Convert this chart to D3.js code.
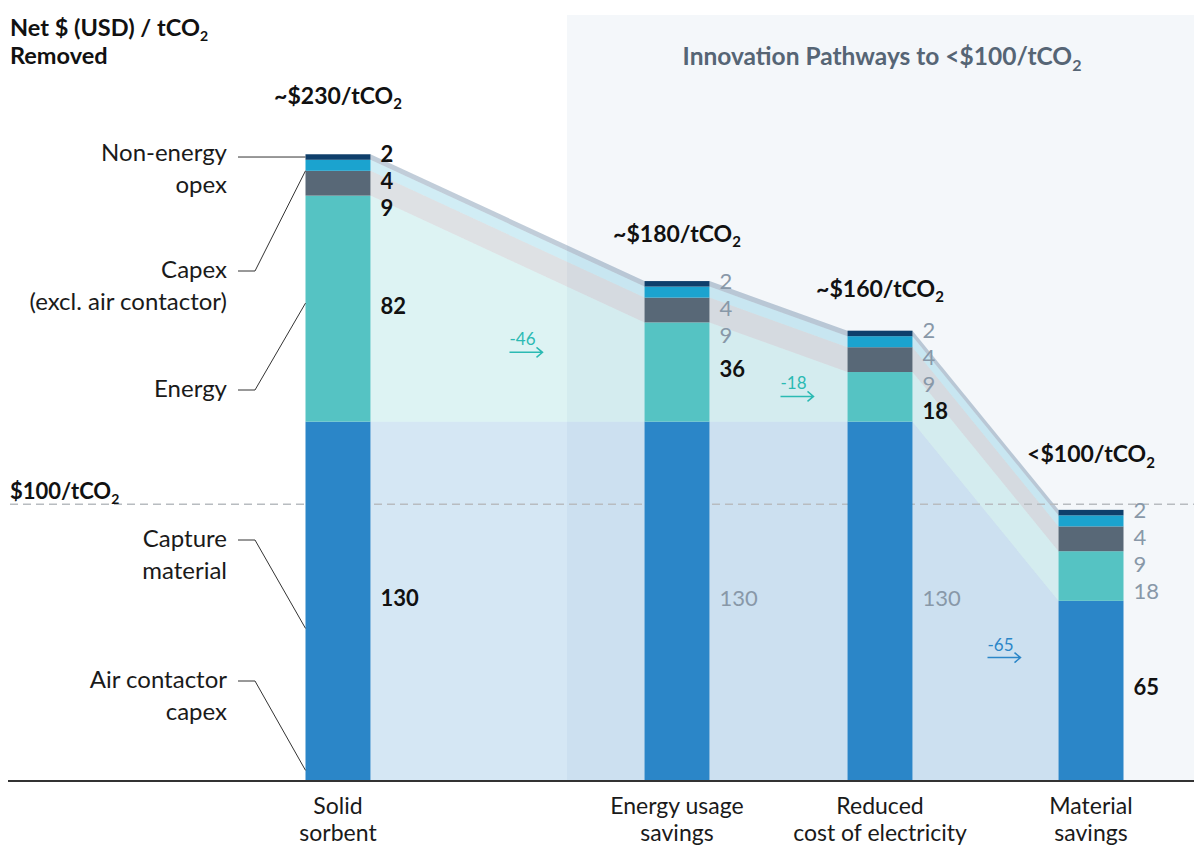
<!DOCTYPE html>
<html>
<head>
<meta charset="utf-8">
<script src="https://cdn.jsdelivr.net/npm/d3@7"></script>
<style>
  body { margin: 0; background: #fff; }
  svg { display: block; font-family: Lato, "Noto Sans", sans-serif; }
</style>
</head>
<body>
<script>
// ---- data ----
const categories = ['Solid sorbent', 'Energy usage savings', 'Reduced cost of electricity', 'Material savings'];
const categoryLines = [['Solid', 'sorbent'], ['Energy usage', 'savings'], ['Reduced', 'cost of electricity'], ['Material', 'savings']];

// stacked components, bottom -> top
const captureValues = [130, 130, 130, 65];
const energyValues = [82, 36, 18, 18];
const capexValues = [9, 9, 9, 9];
const opexMidValues = [4, 4, 4, 4];
const opexTopValues = [2, 2, 2, 2];

const totalLabels = ['~$230/tCO', '~$180/tCO', '~$160/tCO', '<$100/tCO'];
const totalValues = [230, 180, 160, 100];
const thresholdValue = 100;

const W = 1194, H = 846;
const BASE = 780;
const BAR_W = 65;

const keys = ['capture', 'energy', 'capex', 'opexMid', 'opexTop'];
const colors = {
  capture: '#2b86c8',
  energy: '#55c3c3',
  capex: '#586877',
  opexMid: '#1ba3cf',
  opexTop: '#0e3f6b'
};
const bandOpacity = { capture: 0.2, energy: 0.2, capex: 0.2, opexMid: 0.2, opexTop: 0.26 };

const rows = categories.map((c, i) => ({
  cat: c,
  capture: captureValues[i],
  energy: energyValues[i],
  capex: capexValues[i],
  opexMid: opexMidValues[i],
  opexTop: opexTopValues[i]
}));

const series = d3.stack().keys(keys)(rows);

const y = d3.scaleLinear().domain([0, 230]).range([BASE, 146]);
const x = d3.scaleOrdinal().domain(categories).range([338, 677, 880, 1091]);

const svg = d3.select('body').append('svg').attr('width', W).attr('height', H);

// subscript helper
function co2(sel, text, size) {
  sel.append('tspan').text(text);
  sel.append('tspan').attr('font-size', size).attr('dy', size * 0.35).text('2');
}

// innovation panel
svg.append('rect')
  .attr('x', 567).attr('y', 15)
  .attr('width', W - 567).attr('height', BASE - 15)
  .attr('fill', '#f4f7fa');

svg.append('text')
  .attr('x', 882).attr('y', 65)
  .attr('text-anchor', 'middle')
  .attr('font-size', 24.5).attr('font-weight', 700)
  .attr('fill', '#566575')
  .call(co2, 'Innovation Pathways to <$100/tCO', 16);

// bands between bars
const bands = [];
series.forEach((s) => {
  for (let i = 0; i < s.length - 1; i++) {
    const a = s[i], b = s[i + 1];
    const x0 = x(a.data.cat) + BAR_W / 2;
    const x1 = x(b.data.cat) - BAR_W / 2;
    bands.push({
      key: s.key,
      pts: [[x0, y(a[1])], [x1, y(b[1])], [x1, y(b[0])], [x0, y(a[0])]]
    });
  }
});

svg.append('g')
  .selectAll('polygon')
  .data(bands)
  .join('polygon')
  .attr('points', (d) => d.pts.map((p) => p.join(',')).join(' '))
  .attr('fill', (d) => colors[d.key])
  .attr('fill-opacity', (d) => bandOpacity[d.key]);

// threshold line
svg.append('line')
  .attr('x1', 10).attr('x2', W)
  .attr('y1', y(thresholdValue)).attr('y2', y(thresholdValue))
  .attr('stroke', '#b8bcc0')
  .attr('stroke-width', 1.5)
  .attr('stroke-dasharray', '8 5');

svg.append('text')
  .attr('x', 10).attr('y', y(thresholdValue) - 5)
  .attr('font-size', 22).attr('font-weight', 700)
  .attr('fill', '#111')
  .call(co2, '$' + thresholdValue + '/tCO', 14);

// bars
svg.append('g')
  .selectAll('g')
  .data(series)
  .join('g')
  .attr('fill', (d) => colors[d.key])
  .selectAll('rect')
  .data((d) => d)
  .join('rect')
  .attr('x', (d) => x(d.data.cat) - BAR_W / 2)
  .attr('y', (d) => y(d[1]))
  .attr('width', BAR_W)
  .attr('height', (d) => y(d[0]) - y(d[1]));

// axis baseline
svg.append('line')
  .attr('x1', 8).attr('x2', W)
  .attr('y1', BASE + 1).attr('y2', BASE + 1)
  .attr('stroke', '#333').attr('stroke-width', 2);

// value labels, top-down with min spacing
categories.forEach((cat, i) => {
  const segs = keys.map((k, j) => {
    const d = series[j][i];
    const changed = i === 0 || rows[i - 1][k] !== rows[i][k];
    return { v: rows[i][k], mid: (y(d[0]) + y(d[1])) / 2, changed };
  }).reverse();
  let prev = -Infinity;
  segs.forEach((s) => {
    s.ly = Math.max(s.mid - 3, prev + 27);
    prev = s.ly;
  });
  svg.append('g')
    .selectAll('text')
    .data(segs)
    .join('text')
    .attr('x', x(cat) + BAR_W / 2 + 10)
    .attr('y', (d) => d.ly)
    .attr('dy', '0.36em')
    .attr('font-size', 22)
    .attr('font-weight', (d) => (d.changed ? 700 : 400))
    .attr('fill', (d) => (d.changed ? '#111' : '#8898a8'))
    .text((d) => d.v);
});

// total labels
categories.forEach((cat, i) => {
  svg.append('text')
    .attr('x', x(cat))
    .attr('y', y(totalValues[i]) - 42)
    .attr('text-anchor', 'middle')
    .attr('font-size', 23).attr('font-weight', 700)
    .attr('fill', '#111')
    .call(co2, totalLabels[i], 15);
});

// change arrows
for (let i = 0; i < categories.length - 1; i++) {
  const k = keys.find((key) => rows[i][key] !== rows[i + 1][key]);
  const j = keys.indexOf(k);
  const a = series[j][i], b = series[j][i + 1];
  const xa = x(categories[i]) + BAR_W / 2, xb = x(categories[i + 1]) - BAR_W / 2;
  const mx = (xa + xb) / 2;
  const top = (y(a[1]) + y(b[1])) / 2, bot = (y(a[0]) + y(b[0])) / 2;
  const ay = (top + bot) / 2 + 12;
  const x0 = mx + 2, x1 = x0 + 33;
  const col = k === 'energy' ? '#2bbab3' : '#2b86c8';
  svg.append('path')
    .attr('d', `M${x0},${ay}H${x1}M${x1 - 6},${ay - 5}L${x1},${ay}L${x1 - 6},${ay + 5}`)
    .attr('fill', 'none').attr('stroke', col).attr('stroke-width', 1.5);
  svg.append('text')
    .attr('x', x0).attr('y', ay - 7)
    .attr('font-size', 17).attr('fill', col)
    .text(rows[i + 1][k] - rows[i][k]);
}

// category labels
svg.append('g')
  .selectAll('text')
  .data(categories)
  .join('text')
  .attr('x', (d) => x(d))
  .attr('text-anchor', 'middle')
  .attr('font-size', 23)
  .attr('fill', '#1a1a1a')
  .each(function (d, i) {
    categoryLines[i].forEach((line, li) => {
      d3.select(this).append('tspan')
        .attr('x', x(d))
        .attr('y', 814 + li * 27)
        .text(line);
    });
  });

// title
const title = svg.append('text')
  .attr('x', 10).attr('y', 36)
  .attr('font-size', 23.5).attr('font-weight', 700)
  .attr('fill', '#111');
co2(title, 'Net $ (USD) / tCO', 14);
svg.append('text')
  .attr('x', 10).attr('y', 64)
  .attr('font-size', 23.5).attr('font-weight', 700)
  .attr('fill', '#111')
  .text('Removed');

// component annotations on the left
const barLeft = x(categories[0]) - BAR_W / 2;
const notes = [
  { lines: ['Non-energy', 'opex'], ty: 153, target: 226, straight: true },
  { lines: ['Capex', '(excl. air contactor)'], ty: 270, target: 221 },
  { lines: ['Energy'], ty: 389, target: 173 },
  { lines: ['Capture', 'material'], ty: 539, target: 55 },
  { lines: ['Air contactor', 'capex'], ty: 680, target: 3.5 }
];
notes.forEach((n) => {
  const t = svg.append('text')
    .attr('text-anchor', 'end')
    .attr('font-size', 24)
    .attr('fill', '#1a1a1a');
  n.lines.forEach((line, li) => {
    t.append('tspan')
      .attr('x', 227)
      .attr('y', n.ty + li * 32)
      .attr('dy', '0.35em')
      .text(line);
  });
  const sy = n.straight ? y(n.target) : n.ty + 1;
  const pts = n.straight
    ? [[238, sy], [barLeft, sy]]
    : [[238, sy], [255, sy], [barLeft, y(n.target)]];
  svg.append('path')
    .attr('d', d3.line()(pts))
    .attr('fill', 'none')
    .attr('stroke', '#333')
    .attr('stroke-width', 1);
});
</script>
</body>
</html>
